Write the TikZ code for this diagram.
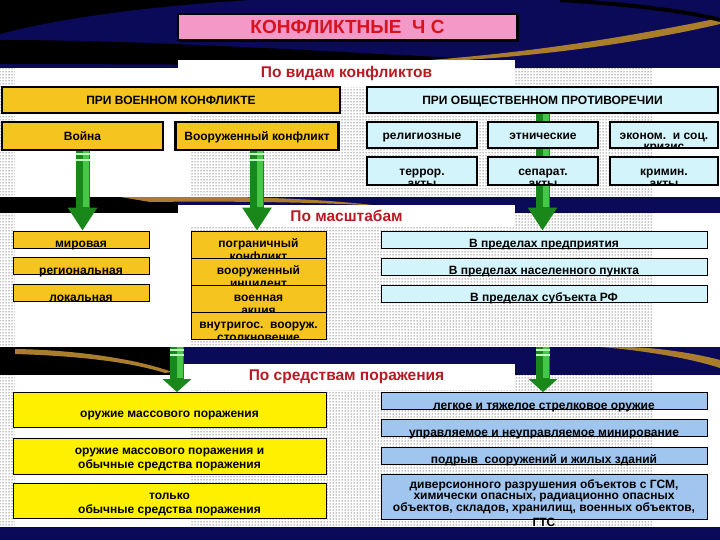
\documentclass[tikz,border=0pt]{standalone}
\usepackage{fontspec}
\setmainfont{Liberation Sans}
\usetikzlibrary{arrows.meta,calc,patterns,shadows,positioning}
\definecolor{navy}{RGB}{10,10,88}
\definecolor{gold}{RGB}{246,196,30}
\definecolor{icecyan}{RGB}{210,244,250}
\definecolor{lemon}{RGB}{255,240,0}
\definecolor{skyblue}{RGB}{160,198,240}
\definecolor{rose}{RGB}{244,152,200}
\definecolor{titlered}{RGB}{215,20,30}
\definecolor{darkred}{RGB}{185,25,35}
\definecolor{arrowgreen}{RGB}{25,135,25}
\definecolor{lightgreen}{RGB}{70,200,70}
\definecolor{swoosh}{RGB}{170,125,45}
\pgfdeclarelayer{back}
\pgfdeclarelayer{mid}
\pgfsetlayers{back,mid,main}

\begin{document}
\begin{tikzpicture}[x=1pt,y=-1pt,
    box/.style={rectangle,draw=black,inner sep=1pt,align=center,
      font=\fontsize{12}{11}\selectfont\bfseries},
    fixed/.style={text height=10.5pt,text depth=1.5pt},
    heavy/.style={box,fixed,line width=2.2pt},
    thin/.style={box,line width=0.8pt},
    mil/.style={heavy,fill=gold},
    civ/.style={heavy,fill=icecyan},
    low/.style={inner ysep=0pt,text height=16pt,text depth=0pt},
    cutline/.style={anchor=base,inner sep=0pt,draw=none,fill=none,minimum size=0pt,
      font=\fontsize{12}{11}\selectfont\bfseries},
    cut/.style={path picture={\node[cutline] at ([yshift=-2.5pt]path picture bounding box.south) {#1};}},
    headbox/.style={fill=white,minimum width=337pt,inner sep=0pt,text=darkred,
      font=\fontsize{15.5}{15.5}\selectfont\bfseries},
    title/.style={fill=rose,draw=black,line width=1.2pt,minimum width=339pt,minimum height=26pt,
      text=titlered,font=\fontsize{19}{19}\selectfont\bfseries,
      drop shadow={shadow xshift=2pt,shadow yshift=-2pt,fill=black,opacity=1}},
    bigarrow/.style={draw=arrowgreen,line width=14pt,-{Triangle[length=#1,width=28pt]}},
    bigarrow/.default=23pt,
    shine/.style={draw=lightgreen,line width=6pt,transform canvas={xshift=3pt},shorten >=#1},
    shine/.default=24pt,
    stripe/.style={draw=green!25!white,line width=1.2pt}]
  \useasboundingbox (0,0) rectangle (720,540);

  \begin{pgfonlayer}{back}
    \fill[navy] (0,0) rectangle (720,540);
    % swooshes
    \fill[black] (0,0) -- (250,0) .. controls (150,6) and (60,18) .. (0,34) -- cycle;
    \fill[black] (0,40) .. controls (150,40) and (330,52) .. (500,60) -- (500,64) .. controls (330,66) and (150,64) .. (0,64) -- cycle;
    \fill[swoosh] (430,60) .. controls (560,50) and (660,30) .. (720,18) -- (720,24) .. controls (660,38) and (560,56) .. (430,62) -- cycle;
    \draw[black,line width=4pt] (560,0) .. controls (640,5) and (690,12) .. (720,20);
    \fill[black] (0,195) rectangle (178,213);
    \fill[swoosh] (120,197) .. controls (220,195) and (320,198) .. (380,206) .. controls (320,202) and (220,201) .. (150,202) -- cycle;
    \fill[black] (0,347) rectangle (178,375);
    \fill[swoosh] (15,349) .. controls (80,350) and (140,360) .. (172,372) -- (165,373) .. controls (130,362) and (80,356) .. (15,354) -- cycle;
    \fill[swoosh] (600,347) .. controls (640,350) and (690,358) .. (720,368) -- (720,360) .. controls (690,352) and (650,347) .. (625,347) -- cycle;
    % panels
    \foreach \top/\bot in {68/197,213/347,375/527} {
      \fill[white] (0,\top) rectangle (720,\bot);
      \fill[pattern=dots,pattern color=black] (0,\top) rectangle (652,\bot);
      \fill[white] (15,\top) rectangle (190,\bot);
    }
    \node[headbox,minimum height=27pt] (kinds) at (346.5,73.5) {По видам конфликтов};
    \node[headbox,minimum height=22pt] (scales) at (346.5,216) {По масштабам};
    \node[headbox,minimum height=26pt] (means) at (346.5,377) {По средствам поражения};
  \end{pgfonlayer}

  \node[title] (head) at (347.5,27) {КОНФЛИКТНЫЕ\ \ Ч С};

  % by kind of conflict
  \node[mil,minimum width=338pt,minimum height=26pt] (military) at (171,100) {ПРИ ВОЕННОМ КОНФЛИКТЕ};
  \node[civ,minimum width=351pt,minimum height=26pt] (civil) at (542.5,100) {ПРИ ОБЩЕСТВЕННОМ ПРОТИВОРЕЧИИ};
  \node[mil,minimum width=161pt,minimum height=28pt] (war) at (82.5,136) {Война};
  \node[mil,minimum width=163pt,minimum height=28pt] (armed) at (257,136) {Вооруженный конфликт};
  \node[civ,minimum width=110pt,minimum height=26pt] (relig) at (422,135) {религиозные};
  \node[civ,minimum width=110pt,minimum height=26pt] (ethnic) at (543,135) {этнические};
  \node[civ,minimum width=108pt,minimum height=26pt,cut=кризис] (econ) at (664,135) {эконом.\ \ и соц.};
  \node[civ,minimum width=110pt,minimum height=28pt,cut=акты] (terror) at (422,171) {террор.};
  \node[civ,minimum width=110pt,minimum height=28pt,cut=акты] (separ) at (543,171) {сепарат.};
  \node[civ,minimum width=108pt,minimum height=28pt,cut=акты] (crimin) at (664,171) {кримин.};

  % by scale
  \node[thin,fill=gold,low,minimum width=136pt,minimum height=17pt] (world) at (81,239.5) {мировая};
  \node[thin,fill=gold,low,minimum width=136pt,minimum height=17pt] (region) at (81,266) {региональная};
  \node[thin,fill=gold,low,minimum width=136pt,minimum height=17pt] (local) at (81,293) {локальная};
  \node[thin,text height=8.5pt,text depth=2.5pt,fill=gold,minimum width=135pt,minimum height=27pt,cut=конфликт] (frontier) at (258.5,244.5) {пограничный};
  \node[thin,text height=8.5pt,text depth=2.5pt,fill=gold,minimum width=135pt,minimum height=27pt,cut=инцидент] (incident) at (258.5,271.5) {вооруженный};
  \node[thin,text height=8.5pt,text depth=2.5pt,fill=gold,minimum width=135pt,minimum height=27pt,cut=акция] (action) at (258.5,298.5) {военная};
  \node[thin,text height=8.5pt,text depth=2.5pt,fill=gold,minimum width=135pt,minimum height=27pt,cut=столкновение] (clash) at (258.5,325.5) {внутригос.\ \ вооруж.};
  \node[thin,fill=icecyan,low,minimum width=326pt,minimum height=17pt] (firm) at (544,239.5) {В пределах предприятия};
  \node[thin,fill=icecyan,low,minimum width=326pt,minimum height=17pt] (town) at (544,266.5) {В пределах населенного пункта};
  \node[thin,fill=icecyan,low,minimum width=326pt,minimum height=17pt] (subject) at (544,293.5) {В пределах субъекта РФ};

  % by means of destruction
  \node[thin,fill=lemon,minimum width=313pt,minimum height=35pt,text height=14pt,text depth=0pt] (wmd) at (169.5,410) {оружие массового поражения};
  \node[thin,fill=lemon,minimum width=313pt,minimum height=36pt,text height=24pt,text depth=0pt,font=\fontsize{12}{14}\selectfont\bfseries] (mixed) at (169.5,456) {оружие массового поражения и\\обычные средства поражения};
  \node[thin,fill=lemon,minimum width=313pt,minimum height=35pt,text height=24pt,text depth=0pt,font=\fontsize{12}{14}\selectfont\bfseries] (conv) at (169.5,501) {только\\обычные средства поражения};
  \node[thin,fill=skyblue,low,minimum width=326pt,minimum height=17pt] (rifles) at (544,401) {легкое и тяжелое стрелковое оружие};
  \node[thin,fill=skyblue,low,minimum width=326pt,minimum height=17pt] (mines) at (544,428) {управляемое и неуправляемое минирование};
  \node[thin,fill=skyblue,low,minimum width=326pt,minimum height=17pt] (blast) at (544,455.5) {подрыв\ \ сооружений и жилых зданий};
  \node[thin,fill=skyblue,minimum width=326pt,minimum height=45pt,
    label={[cutline,yshift=-7pt]south:ГТС}] (sabot) at (544,497)
    {диверсионного разрушения объектов с ГСМ,\\химически опасных, радиационно опасных\\объектов, складов, хранилищ, военных объектов,};

  \begin{pgfonlayer}{mid}
    \coordinate (drop1) at (177,347);
    \coordinate (drop2) at (543,347);
    \draw[bigarrow] (war.south) -- (war.south |- world.north);
    \draw[shine] (war.south) -- (war.south |- world.north);
    \draw[bigarrow] (armed.south) -- (armed.south |- frontier.north);
    \draw[shine] (armed.south) -- (armed.south |- frontier.north);
    \draw[bigarrow] (civil.south) -- (civil.south |- firm.north);
    \draw[shine] (civil.south) -- (civil.south |- firm.north);
    \draw[bigarrow=13pt] (drop1) -- (drop1 |- wmd.north);
    \draw[shine=14pt] (drop1) -- (drop1 |- wmd.north);
    \draw[bigarrow=13pt] (drop2) -- (drop2 |- rifles.north);
    \draw[shine=14pt] (drop2) -- (drop2 |- rifles.north);
    \foreach \n in {war,armed} {
      \draw[stripe] ($(\n.south)+(-7,3)$) -- +(14,0);
      \draw[stripe] ($(\n.south)+(-7,9)$) -- +(14,0);
    }
    \foreach \n in {drop1,drop2} {
      \draw[stripe] ($(\n)+(-7,3)$) -- +(14,0);
      \draw[stripe] ($(\n)+(-7,8)$) -- +(14,0);
    }
  \end{pgfonlayer}
\end{tikzpicture}
\end{document}
